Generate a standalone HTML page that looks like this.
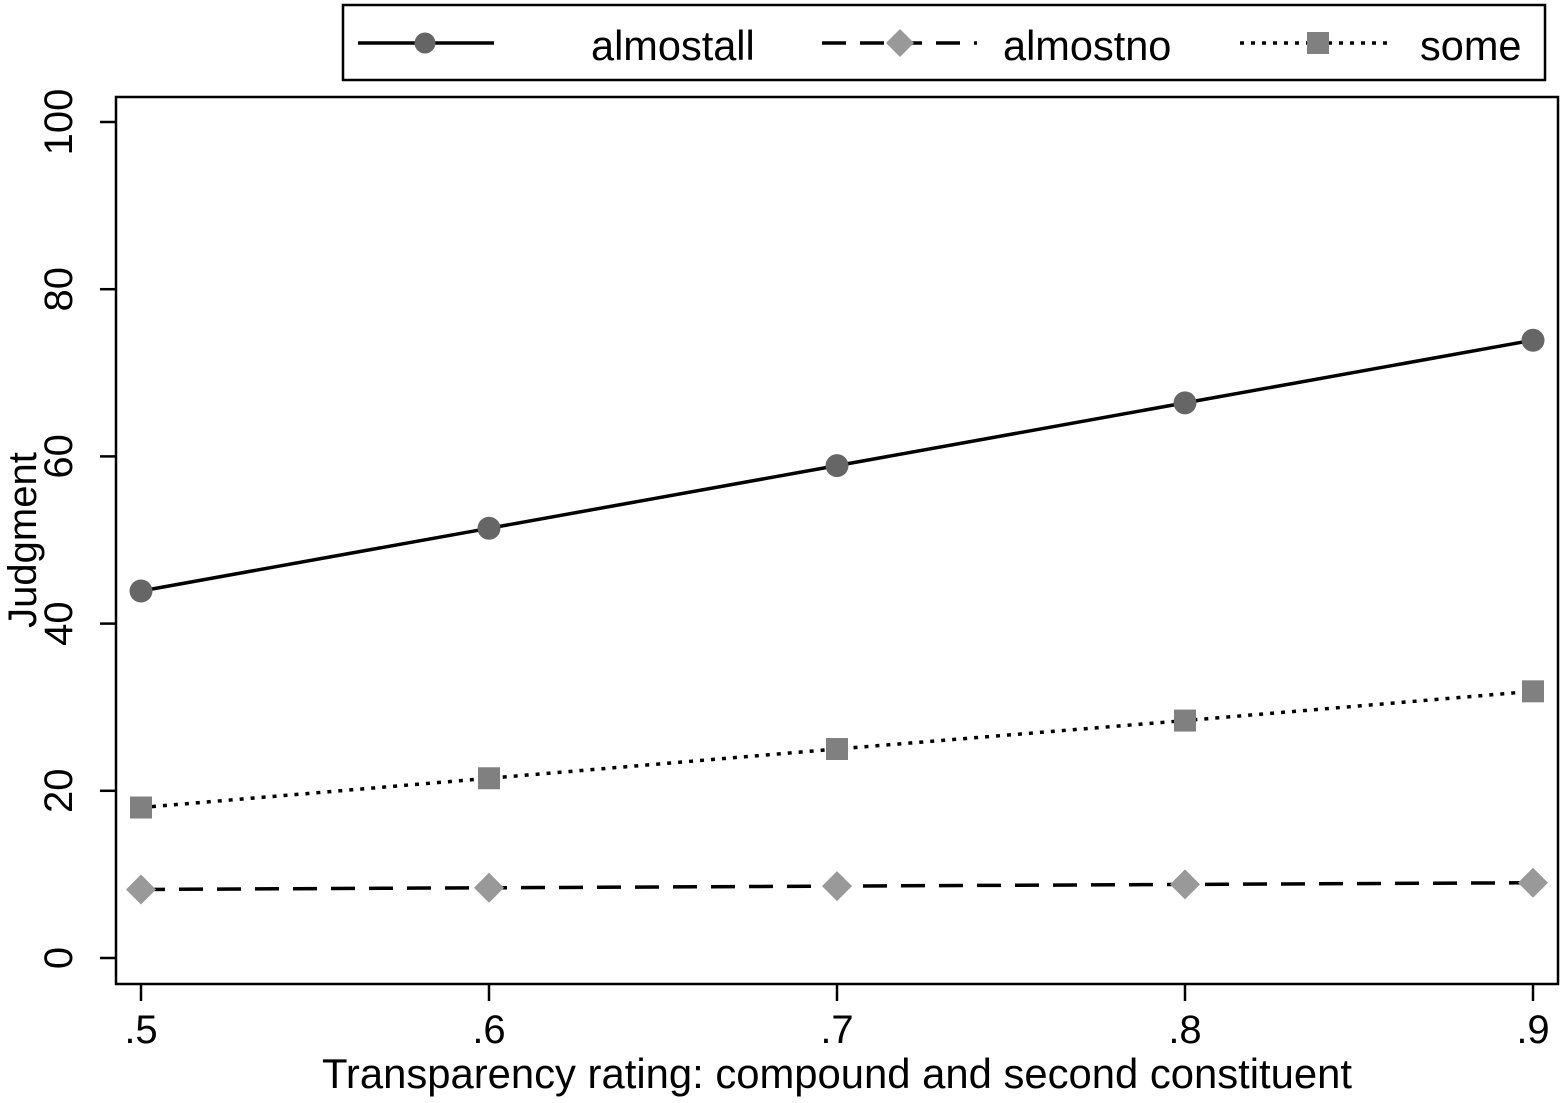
<!DOCTYPE html>
<html><head><meta charset="utf-8"><style>body{margin:0;background:#fff}svg{display:block;font-family:"Liberation Sans",Arial,sans-serif}</style></head>
<body>
<svg id="c" width="1564" height="1103" viewBox="0 0 1564 1103">
<rect x="0" y="0" width="1564" height="1103" fill="#fff"/>
<g>
<rect x="343" y="5" width="1202" height="75" fill="#fff" stroke="#000" stroke-width="2.5"/>
<g><line x1="358" y1="43" x2="494" y2="43" stroke="#000" stroke-width="3.5"/><circle cx="425" cy="43" r="10.5" fill="#666"/><text x="591" y="60" font-size="41.5">almostall</text></g>
<g><line x1="822" y1="43" x2="977" y2="43" stroke="#000" stroke-width="3.5" stroke-dasharray="24,14"/><path d="M900 29 L914 43 L900 57 L886 43Z" fill="#999"/><text x="1003" y="60" font-size="41.5">almostno</text></g>
<g><line x1="1240" y1="43" x2="1392" y2="43" stroke="#000" stroke-width="3.5" stroke-dasharray="4,7"/><rect x="1307" y="32" width="22" height="22" fill="#808080"/><text x="1420" y="60" font-size="41.5">some</text></g>
</g>
<rect x="116" y="97" width="1442" height="887" fill="none" stroke="#000" stroke-width="2.5"/>
<g id="axes"></g><g id="series"></g>
<text transform="translate(36,540) rotate(-90)" text-anchor="middle" font-size="40">Judgment</text>
<text x="837" y="1088" text-anchor="middle" font-size="41.8">Transparency rating: compound and second constituent</text>
</svg>
<script>
const xCats=[0.5,0.6,0.7,0.8,0.9];
const xTickLabels=[".5",".6",".7",".8",".9"];
const yTicks=[0,20,40,60,80,100];
const almostall=[43.9,51.4,58.9,66.4,73.9];
const almostno=[8.2,8.4,8.6,8.8,9.0];
const some=[18.0,21.5,25.0,28.4,31.9];
const NS="http://www.w3.org/2000/svg";
function X(v){return 141+(v-0.5)*3480;}
function Y(v){return 958-v*8.36;}
function mk(t,a,p){const e=document.createElementNS(NS,t);for(const k in a)e.setAttribute(k,a[k]);p.appendChild(e);return e;}
const ax=document.getElementById('axes'),se=document.getElementById('series');
yTicks.forEach(v=>{
 const l=mk('line',{x1:100,x2:116,y1:Y(v),y2:Y(v),stroke:'#000','stroke-width':2.5},ax);
 
 
 const t=mk('text',{transform:`translate(72,${Y(v)}) rotate(-90)`,'text-anchor':'middle','font-size':40},ax);t.textContent=v;
 
 
});
xCats.forEach((v,i)=>{
 const l=mk('line',{x1:X(v),x2:X(v),y1:984,y2:1001,stroke:'#000','stroke-width':2.5},ax);
 
 
 const t=mk('text',{x:X(v),y:1043,'text-anchor':'middle','font-size':40},ax);t.textContent=xTickLabels[i];
 
 
});
function series(vals,name,dash,shape,fill){
 const g=mk('g',{},se);
 
 
 const pl=mk('polyline',{points:vals.map((v,i)=>X(xCats[i])+','+Y(v)).join(' '),fill:'none',stroke:'#000','stroke-width':3.5,'stroke-dasharray':dash},g);
 
 
 vals.forEach((v,i)=>{
  const x=X(xCats[i]),y=Y(v);let m;
  if(shape==='c')m=mk('circle',{cx:x,cy:y,r:11.5,fill:fill},g);
  else if(shape==='d')m=mk('path',{d:`M${x} ${y-15}L${x+15} ${y}L${x} ${y+15}L${x-15} ${y}Z`,fill:fill},g);
  else m=mk('rect',{x:x-11,y:y-11,width:22,height:22,fill:fill},g);
  
  
 });
}
series(almostno,'almostno','24,14','d','#999');
series(some,'some','4,7','s','#808080');
series(almostall,'almostall','none','c','#666');
</script>
</body></html>
